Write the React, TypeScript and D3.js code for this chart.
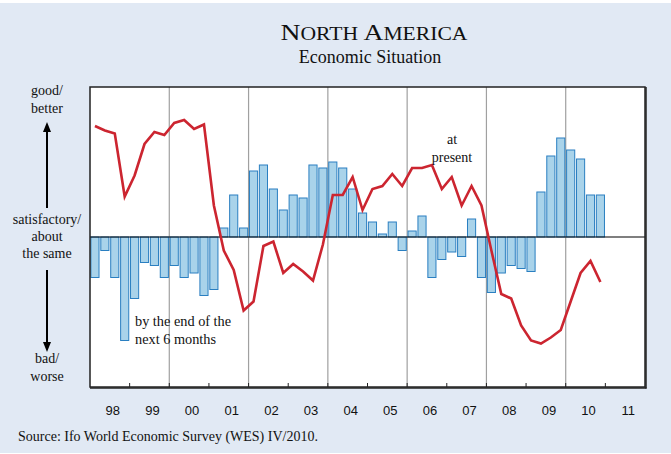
import React from "react";
import * as d3 from "d3";

// quarterly survey results 1998 Q1 - 2010 Q4
const startYear = 1998;
const yearLabels = ["98", "99", "00", "01", "02", "03", "04", "05", "06", "07", "08", "09", "10", "11"];

// expectations: by the end of the next 6 months (bars)
const nextSixMonths = [
  -27, -9, -27, -69, -41, -17, -19, -27,
  -19, -27, -24, -39, -35, 6, 28, 6,
  44, 48, 32, 18, 28, 26, 48, 46,
  50, 46, 32, 16, 10, 2, 10, -9,
  4, 14, -27, -15, -10, -13, 12, -27,
  -37, -24, -19, -21, -23, 30, 54, 66,
  58, 52, 28, 28,
];

// present situation (line)
const atPresent = [
  74, 71, 69, 27, 41, 62, 70, 68,
  76, 78, 72, 75, 21, -9, -22, -49,
  -43, -6, -3, -24, -18, -23, -29, -5,
  28, 28, 40, 18, 32, 34, 42, 34,
  46, 46, 48, 32, 40, 21, 34, 21,
  -9, -38, -41, -59, -69, -71, -67, -62,
  -43, -24, -16, -30,
];

const W = 671;
const H = 454;
const plot = { left: 90, right: 645, top: 87, bottom: 387 };

const serif = "'Liberation Serif', 'Times New Roman', serif";
const sans = "'Liberation Sans', Arial, sans-serif";

export default function App() {
  const x = d3.scaleLinear()
    .domain([startYear, startYear + yearLabels.length])
    .range([plot.left, plot.right]);
  const y = d3.scaleLinear().domain([-100, 100]).range([plot.bottom, plot.top]);

  const qw = x(startYear + 0.25) - x(startYear);
  const barW = qw * 0.82;
  const qx = (i: number) => x(startYear + i * 0.25);

  const line = d3.line<number>()
    .x((_, i) => qx(i) + qw / 2)
    .y((d) => y(d));

  const years = d3.range(startYear, startYear + yearLabels.length + 1);

  return (
    <svg width={W} height={H} style={{ position: "absolute", left: 0, top: 0 }}>
      <rect x={0} y={0} width={W} height={H} fill="#ffffff" />
      <rect x={0} y={3} width={W} height={H - 4} fill="#e1e9f4" />

      {/* title */}
      <text x={374} y={40} textAnchor="middle" fontFamily={serif} fill="#111" textLength={187} lengthAdjust="spacingAndGlyphs">
        <tspan fontSize={23}>N</tspan>
        <tspan fontSize={18}>ORTH </tspan>
        <tspan fontSize={23}>A</tspan>
        <tspan fontSize={18}>MERICA</tspan>
      </text>
      <text x={370} y={63} textAnchor="middle" fontFamily={serif} fontSize={18} fill="#111">
        Economic Situation
      </text>

      {/* plot area */}
      <rect x={plot.left} y={plot.top} width={plot.right - plot.left} height={plot.bottom - plot.top} fill="#fff" />

      {/* gridlines every two years */}
      {years.filter((yr) => yr > startYear && yr < startYear + yearLabels.length && yr % 2 === 0).map((yr) => (
        <line key={"g" + yr} x1={x(yr)} x2={x(yr)} y1={plot.top} y2={plot.bottom} stroke="#a0a0a0" strokeWidth={1.2} />
      ))}

      {/* bars */}
      {nextSixMonths.map((v, i) => (
        <rect
          key={"b" + i}
          x={qx(i) + (qw - barW) / 2}
          y={Math.min(y(v), y(0))}
          width={barW}
          height={Math.abs(y(v) - y(0))}
          fill="#a9d3ea"
          stroke="#2a7fc1"
          strokeWidth={1}
        />
      ))}

      {/* zero line */}
      <line x1={plot.left} x2={plot.right} y1={y(0)} y2={y(0)} stroke="#000" strokeWidth={1.2} />

      {/* present situation line */}
      <path d={line(atPresent) || ""} fill="none" stroke="#cc2530" strokeWidth={2.6} strokeLinejoin="miter" />

      {/* bottom ticks */}
      {years.slice(1, -1).map((yr) => (
        <line key={"t" + yr} x1={x(yr)} x2={x(yr)} y1={plot.bottom} y2={plot.bottom - 4} stroke="#222" strokeWidth={1} />
      ))}

      {/* frame */}
      <rect x={plot.left} y={plot.top} width={plot.right - plot.left} height={plot.bottom - plot.top} fill="none" stroke="#222" strokeWidth={1.5} />
      <line x1={plot.right + 1} x2={plot.right + 1} y1={plot.top} y2={plot.bottom + 1.5} stroke="#222" strokeWidth={1.5} />
      <line x1={plot.left} x2={plot.right + 1.5} y1={plot.bottom + 1} y2={plot.bottom + 1} stroke="#222" strokeWidth={1.5} />

      {/* year labels */}
      {yearLabels.map((lab, i) => (
        <text key={lab} x={x(startYear + i + 0.5) + 3} y={415} textAnchor="middle" fontFamily={sans} fontSize={13} fill="#111">
          {lab}
        </text>
      ))}

      {/* annotations */}
      <text fontFamily={serif} fontSize={14} fill="#111" textAnchor="middle">
        <tspan x={452} y={144}>at</tspan>
        <tspan x={452} y={162}>present</tspan>
      </text>
      <text fontFamily={serif} fontSize={14.3} fill="#111">
        <tspan x={135} y={326}>by the end of the</tspan>
        <tspan x={135} y={344}>next 6 months</tspan>
      </text>

      {/* y axis description */}
      <g fontFamily={serif} fontSize={14} fill="#111" textAnchor="middle">
        <text x={47} y={95}>good/</text>
        <text x={47} y={113}>better</text>
        <text x={47} y={224}>satisfactory/</text>
        <text x={47} y={241}>about</text>
        <text x={47} y={258}>the same</text>
        <text x={47} y={363}>bad/</text>
        <text x={47} y={381}>worse</text>
      </g>
      <line x1={47} x2={47} y1={208} y2={130} stroke="#000" strokeWidth={2} />
      <path d="M47,122 L43,132 L51,132 Z" fill="#000" />
      <line x1={47} x2={47} y1={270} y2={344} stroke="#000" strokeWidth={2} />
      <path d="M47,352 L43,342 L51,342 Z" fill="#000" />

      {/* source */}
      <text x={18} y={441} fontFamily={serif} fontSize={14} fill="#111">
        Source: Ifo World Economic Survey (WES) IV/2010.
      </text>
    </svg>
  );
}
